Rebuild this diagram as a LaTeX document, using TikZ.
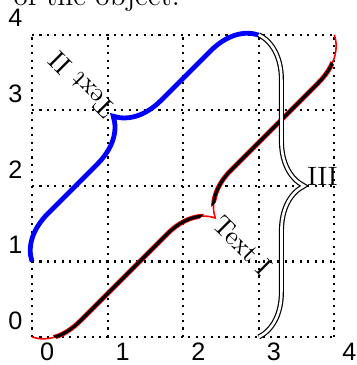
\documentclass[tikz,border=0pt]{standalone}
\usepackage{fontspec}
\newfontfamily\sansf{Liberation Sans}
\usetikzlibrary{decorations.pathreplacing}
\begin{document}
\begin{tikzpicture}[
  gridline/.style={black, dotted, line width=0.8pt},
  ticklabel/.style={font=\sansf\fontsize{9.5}{10}\selectfont, inner sep=0pt},
  bracetext/.style={font=\fontsize{10}{12}\selectfont, inner sep=1pt},
  bracedeco/.style={decorate, decoration={brace, amplitude=0.6cm}},
  bracemirror/.style={decorate, decoration={brace, amplitude=0.6cm, mirror}},
]
\useasboundingbox (-0.424,-0.37) rectangle (4.29,4.46);

% grid
\draw[gridline] (0,0) grid (4,4);

% tick labels
\foreach \i in {0,...,4} {
  \node[ticklabel] (xl\i) at (\i+0.2,-0.2) {\i};
  \node[ticklabel] (yl\i) at (-0.22,\i+0.22) {\i};
}

% cut-off caption line
\node[font=\fontsize{11}{13}\selectfont, anchor=base west, inner sep=0pt] (cap) at (-0.25,4.39) {of the object.};

% end points
\coordinate (b0) at (0,1);
\coordinate (b1) at (3,4);
\coordinate (r0) at (0,0);
\coordinate (r1) at (4,4);
\coordinate (d0) at (3,4);
\coordinate (d1) at (3,0);
% brace tips
\coordinate (tipB) at (1.076,2.924);
\coordinate (tipR) at (2.424,1.576);
\coordinate (tipD) at (3.6,2);

% red / black brace
\draw[red, line width=0.6pt, bracemirror] (r0) -- (r1);
\begin{scope}
  \clip (0.475,-0.175) -- (4.125,3.475) -- (3.3,4.3) -- (-0.35,0.65) -- cycle;
  \draw[red, line width=1.8pt, bracemirror] (r0) -- (r1);
  \draw[black, line width=1.15pt, line cap=round, bracemirror] (r0) -- (r1);
\end{scope}

% blue brace
\draw[blue, line width=1.8pt, bracedeco] (b0) -- (b1);

% double brace
\draw[black, double=white, double distance=1pt, line width=0.45pt, bracedeco] (d0) -- (d1);

% labels
\node[bracetext, rotate=135, anchor=west] (t2) at (tipB) {Text II};
\node[bracetext, rotate=-45, anchor=west] (t1) at (tipR) {Text I};
\node[bracetext, anchor=base west, inner sep=1pt] (t3) at (tipD) {III};
\end{tikzpicture}
\end{document}
